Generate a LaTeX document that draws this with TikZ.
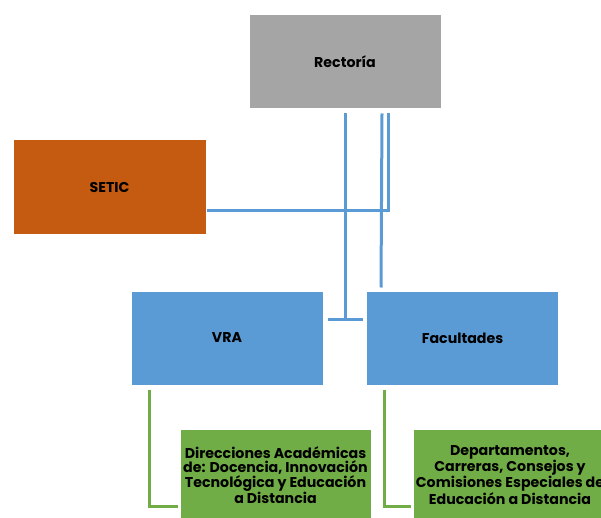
\documentclass[tikz,border=0pt]{standalone}
\usepackage{fontspec}
\setmainfont{Poppins}
\usetikzlibrary{calc}
\definecolor{cgray}{HTML}{A5A5A5}
\definecolor{corange}{HTML}{C55A11}
\definecolor{cblue}{HTML}{5B9BD5}
\definecolor{cgreen}{HTML}{70AD47}
\tikzset{
  box/.style={draw=white, line width=1pt, inner sep=2pt, align=center, font=\bfseries\fontsize{14.2}{14.6}\selectfont},
  graybox/.style={box, fill=cgray, minimum width=192pt, minimum height=94pt},
  orangebox/.style={box, fill=corange, minimum width=193pt, minimum height=95pt},
  bluebox/.style={box, fill=cblue, minimum width=192pt, minimum height=94pt},
  greenbox/.style={box, fill=cgreen, minimum width=191pt, minimum height=92pt},
  blueline/.style={draw=cblue, line width=3pt},
  greenline/.style={draw=cgreen, line width=3pt},
}
\begin{document}
\begin{tikzpicture}[x=1pt,y=-1pt]
\path[use as bounding box, clip] (0,0) rectangle (601,518);
\node[graybox] (rect) at (345,62) {Rectoría};
\node[orangebox] (setic) at (109.5,187.5) {SETIC};
\node[bluebox] (vra) at (227,338) {VRA};
\node[bluebox] (fac) at (462.5,338) {Facultades};
\node[greenbox] (dir) at (275.5,475) {Direcciones Académicas\\de: Docencia, Innovación\\Tecnológica y Educación\\a Distancia};
\node[greenbox] (dep) at (510,475) {Departamentos,\\Carreras, Consejos y\\Comisiones Especiales de\\Educación a Distancia};
% connectors
\coordinate (j1) at ($(rect.south)+(0,210)$);
\draw[blueline] ($(rect.south)+(0,4)$) -- (j1);
\draw[blueline] ($(vra.east)+(4,-19)$) -- ($(fac.west)+(-3,-19)$);
\draw[blueline] ($(rect.south)+(37,4)$) -- ($(fac.north west)+(15,-3)$);
\draw[blueline] ($(rect.south)+(43,4)$) |- ($(setic.east)+(0,23.5)$);
\draw[greenline] ($(vra.south west)+(19,4)$) |- ($(dir.west)+(-2,31)$);
\draw[greenline] ($(fac.south west)+(18,4)$) |- ($(dep.west)+(-2,31)$);
\end{tikzpicture}
\end{document}
